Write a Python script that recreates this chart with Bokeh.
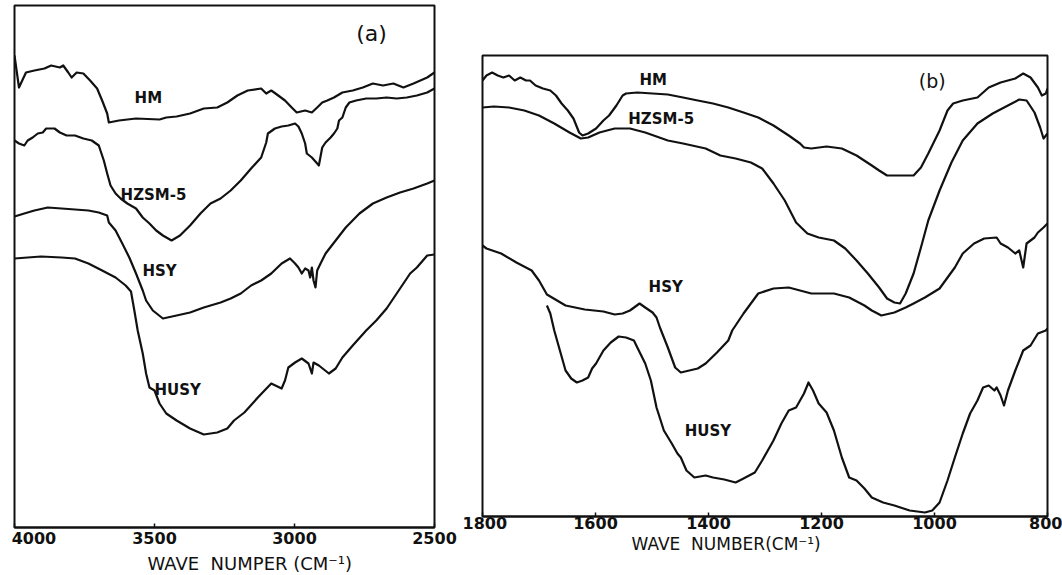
from bokeh.plotting import figure
from bokeh.layouts import row
from bokeh.models import Range1d, FixedTicker, Title
from bokeh.core.properties import value
from bokeh.embed import file_html
from bokeh.resources import INLINE

# ---------------- panel (a): 4000-2500 cm-1 ----------------
A_TICKS = [4000, 3500, 3000, 2500]
A_XLABEL = "WAVE\u00a0 NUMPER (CM\u207b\u00b9)"
A_HM = [(4000, 472), (3984, 440), (3959, 455), (3929, 457), (3893, 459), (3869, 462), (3838, 460),
        (3826, 462), (3808, 455), (3796, 450), (3778, 455), (3754, 454), (3730, 447), (3705, 439),
        (3687, 427), (3669, 414), (3663, 405), (3627, 407), (3566, 409), (3482, 408), (3458, 410),
        (3421, 411), (3373, 414), (3324, 419), (3276, 420), (3240, 425), (3204, 432), (3167, 437),
        (3119, 439), (3101, 434), (3083, 437), (3058, 432), (3034, 427), (3010, 420), (2992, 415),
        (2962, 417), (2938, 415), (2919, 420), (2901, 425), (2883, 427), (2859, 430), (2829, 435),
        (2792, 437), (2756, 440), (2720, 444), (2684, 442), (2647, 444), (2611, 440), (2575, 444),
        (2526, 450), (2500, 455)]
A_HZSM5 = [(4000, 387), (3984, 384), (3965, 382), (3953, 387), (3935, 390), (3917, 394), (3899, 395),
           (3887, 399), (3857, 399), (3838, 395), (3814, 392), (3784, 392), (3754, 389), (3724, 387),
           (3699, 382), (3681, 367), (3669, 354), (3657, 342), (3639, 334), (3621, 329), (3597, 324),
           (3566, 319), (3542, 310), (3518, 304), (3494, 297), (3470, 292), (3439, 287), (3409, 292),
           (3373, 302), (3336, 314), (3300, 324), (3264, 329), (3228, 337), (3192, 347), (3155, 359),
           (3119, 370), (3101, 385), (3095, 394), (3070, 399), (3046, 401), (3022, 402), (2998, 404),
           (2986, 401), (2974, 394), (2962, 384), (2956, 374), (2938, 370), (2919, 364), (2913, 362),
           (2901, 380), (2889, 385), (2871, 390), (2859, 394), (2847, 399), (2841, 407), (2829, 410),
           (2817, 420), (2804, 425), (2780, 427), (2744, 429), (2708, 429), (2671, 430), (2635, 429),
           (2599, 430), (2563, 432), (2526, 435), (2500, 439)]
A_HSY = [(4000, 311), (3965, 314), (3929, 317), (3881, 320), (3832, 319), (3784, 318), (3736, 317),
         (3699, 315), (3669, 312), (3663, 305), (3639, 297), (3615, 284), (3590, 270), (3566, 254),
         (3542, 237), (3530, 227), (3506, 217), (3470, 209), (3421, 212), (3373, 215), (3324, 220),
         (3264, 225), (3228, 229), (3192, 234), (3155, 242), (3119, 247), (3083, 254), (3046, 264),
         (3016, 269), (2998, 264), (2986, 260), (2974, 254), (2962, 259), (2950, 257), (2944, 250),
         (2938, 260), (2932, 247), (2925, 240), (2919, 257), (2907, 264), (2889, 274), (2853, 287),
         (2817, 300), (2768, 314), (2720, 324), (2671, 330), (2623, 335), (2575, 339), (2526, 344),
         (2500, 347)]
A_HUSY = [(4000, 269), (3953, 270), (3905, 271), (3832, 270), (3784, 269), (3736, 264), (3687, 257),
          (3639, 250), (3603, 242), (3584, 236), (3572, 217), (3560, 197), (3542, 174), (3530, 154),
          (3518, 140), (3500, 137), (3482, 124), (3458, 114), (3421, 107), (3373, 99), (3324, 93),
          (3276, 95), (3240, 99), (3216, 107), (3179, 115), (3131, 130), (3083, 144), (3046, 139),
          (3034, 147), (3022, 160), (2998, 165), (2974, 169), (2950, 164), (2938, 154), (2932, 165),
          (2913, 162), (2877, 154), (2853, 159), (2829, 170), (2792, 182), (2744, 197), (2708, 207),
          (2671, 219), (2635, 234), (2611, 244), (2587, 254), (2563, 260), (2526, 272), (2500, 273)]
A_NAMES = ["HM", "HZSM-5", "HSY", "HUSY"]
A_NAME_X = [3571, 3621, 3543, 3500]
A_NAME_Y = [430, 333, 257, 138]
A_TAG = ("(a)", 2725, 494)

# ---------------- panel (b): 1800-800 cm-1 ----------------
B_TICKS = [1800, 1600, 1400, 1200, 1000, 800]
B_XLABEL = "WAVE\u00a0 NUMBER(CM\u207b\u00b9)"
B_HM = [(1800, 436), (1793, 441), (1783, 444), (1773, 441), (1763, 439), (1753, 441), (1743, 436),
        (1733, 439), (1723, 436), (1716, 436), (1706, 431), (1693, 428), (1680, 426), (1670, 421),
        (1660, 413), (1649, 406), (1639, 398), (1629, 384), (1623, 381), (1613, 383), (1599, 388),
        (1586, 396), (1576, 401), (1563, 411), (1552, 421), (1546, 423), (1526, 424), (1499, 423),
        (1472, 422), (1445, 419), (1419, 416), (1392, 413), (1365, 409), (1338, 404), (1312, 399),
        (1285, 391), (1258, 381), (1238, 373), (1231, 369), (1218, 368), (1191, 370), (1164, 368),
        (1138, 361), (1111, 351), (1098, 346), (1084, 341), (1057, 341), (1037, 341), (1024, 349),
        (1011, 363), (991, 386), (977, 406), (967, 413), (950, 416), (924, 419), (904, 429),
        (883, 434), (857, 438), (843, 443), (830, 439), (817, 429), (810, 421), (803, 423), (800, 428)]
B_HZSM5 = [(1800, 409), (1780, 410), (1753, 409), (1726, 406), (1700, 401), (1673, 393), (1646, 384),
           (1626, 378), (1613, 379), (1593, 384), (1566, 388), (1539, 388), (1512, 384), (1472, 376),
           (1445, 373), (1405, 368), (1379, 361), (1352, 358), (1325, 354), (1305, 348), (1285, 333),
           (1265, 316), (1245, 294), (1225, 283), (1205, 279), (1178, 276), (1158, 268), (1138, 256),
           (1118, 243), (1098, 229), (1084, 218), (1071, 214), (1061, 213), (1051, 223), (1037, 243),
           (1024, 269), (1011, 296), (991, 326), (970, 354), (950, 376), (924, 393), (897, 403),
           (870, 411), (850, 417), (837, 416), (823, 404), (813, 389), (807, 378), (800, 383)]
B_HSY = [(1800, 271), (1793, 268), (1767, 263), (1740, 254), (1713, 246), (1700, 236), (1686, 222),
         (1653, 211), (1619, 207), (1586, 205), (1566, 202), (1552, 203), (1539, 206), (1522, 213),
         (1512, 209), (1499, 204), (1492, 199), (1486, 189), (1472, 169), (1459, 149), (1449, 144),
         (1419, 148), (1405, 153), (1385, 164), (1365, 176), (1358, 186), (1338, 203), (1325, 213),
         (1312, 223), (1285, 228), (1258, 229), (1238, 226), (1218, 223), (1178, 223), (1151, 219),
         (1124, 211), (1111, 206), (1094, 201), (1071, 204), (1051, 209), (1037, 213), (1017, 219),
         (991, 228), (964, 249), (950, 263), (930, 273), (912, 278), (890, 279), (883, 273),
         (870, 269), (857, 263), (850, 266), (843, 249), (837, 273), (830, 276), (823, 279),
         (817, 284), (807, 289), (800, 293)]
B_HUSY = [(1686, 211), (1680, 203), (1673, 186), (1663, 166), (1653, 146), (1643, 138), (1633, 134),
          (1623, 136), (1613, 139), (1606, 148), (1599, 153), (1586, 166), (1573, 174), (1559, 180),
          (1546, 179), (1532, 176), (1526, 169), (1512, 153), (1502, 136), (1492, 109), (1479, 86),
          (1465, 73), (1455, 63), (1449, 59), (1439, 46), (1425, 39), (1405, 41), (1392, 39),
          (1372, 37), (1352, 34), (1338, 38), (1318, 44), (1305, 56), (1285, 76), (1271, 93),
          (1258, 106), (1245, 109), (1231, 123), (1223, 134), (1215, 126), (1205, 113), (1191, 104),
          (1178, 86), (1164, 59), (1151, 39), (1138, 36), (1124, 28), (1111, 19), (1091, 14),
          (1071, 11), (1044, 6), (1017, 4), (1004, 6), (991, 14), (977, 36), (964, 59), (950, 83),
          (937, 103), (924, 116), (914, 129), (904, 131), (894, 126), (890, 129), (883, 121),
          (877, 111), (870, 126), (857, 146), (843, 166), (830, 171), (817, 183), (803, 186), (800, 188)]
B_NAMES = ["HM", "HZSM-5", "HSY", "HUSY"]
B_NAME_X = [1522, 1542, 1506, 1442]
B_NAME_Y = [437, 398, 230, 86]
B_TAG = ("(b)", 1004, 436)

FONT = "DejaVu Sans"
INK = "#111111"


def panel(x_start, x_end, y_top, frame_w, frame_h, ticks, overrides, xlabel, label_offset,
          label_size, label_standoff, tick_standoff,
          series, names, name_x, name_y, tag, tag_size, border_l, border_r, border_t):
    p = figure(frame_width=frame_w, frame_height=frame_h,
               x_range=Range1d(x_start, x_end), y_range=Range1d(0, y_top),
               output_backend="svg", toolbar_location=None, y_axis_location=None,
               min_border_left=border_l, min_border_right=border_r,
               min_border_top=border_t, min_border_bottom=0)
    p.frame_align = False
    p.grid.visible = False
    p.background_fill_color = "white"
    p.border_fill_color = "white"
    p.outline_line_color = INK
    p.outline_line_width = 2
    ax = p.xaxis[0]
    ax.ticker = FixedTicker(ticks=ticks)
    ax.major_label_overrides = overrides
    ax.major_tick_in = 4
    ax.major_tick_out = 0
    ax.minor_tick_in = 0
    ax.minor_tick_out = 0
    ax.major_tick_line_width = 1.5
    ax.major_tick_line_color = INK
    ax.axis_line_color = INK
    ax.axis_line_width = 2
    ax.major_label_standoff = tick_standoff
    ax.major_label_text_font = FONT
    ax.major_label_text_font_style = "bold"
    ax.major_label_text_font_size = "16px"
    ax.major_label_text_color = INK
    p.add_layout(Title(text=xlabel, align="left", offset=label_offset, standoff=label_standoff,
                       text_font=FONT, text_font_style="normal", text_font_size=label_size,
                       text_color=INK), "below")
    for pts in series:
        xs = [a for a, b in pts]
        ys = [b for a, b in pts]
        p.line(xs, ys, line_color=INK, line_width=2.2, line_join="round")
    p.text(x=name_x, y=name_y, text=names, text_font=value(FONT), text_font_style="bold",
           text_font_size="15px", text_baseline="middle", text_align="left", text_color=INK)
    p.text(x=[tag[1]], y=[tag[2]], text=[tag[0]], text_font=value(FONT),
           text_font_size=tag_size, text_baseline="middle", text_align="center", text_color=INK)
    return p


pa = panel(4000, 2500, 522, 420, 522, A_TICKS,
           {4000: "\u00a0" * 2 + "4000"}, A_XLABEL, 133, "18px", 0, 1,
           [A_HM, A_HZSM5, A_HSY, A_HUSY], A_NAMES, A_NAME_X, A_NAME_Y, A_TAG, "22px",
           14, 28, 5)
pb = panel(1800, 800, 461, 565, 461, B_TICKS,
           {}, B_XLABEL, 149, "17px", 0, 0,
           [B_HM, B_HZSM5, B_HSY, B_HUSY], B_NAMES, B_NAME_X, B_NAME_Y, B_TAG, "19px",
           20, 15, 55)

layout = row(pa, pb, spacing=0)
open("out.html", "w").write(file_html(layout, INLINE, "IR spectra"))
